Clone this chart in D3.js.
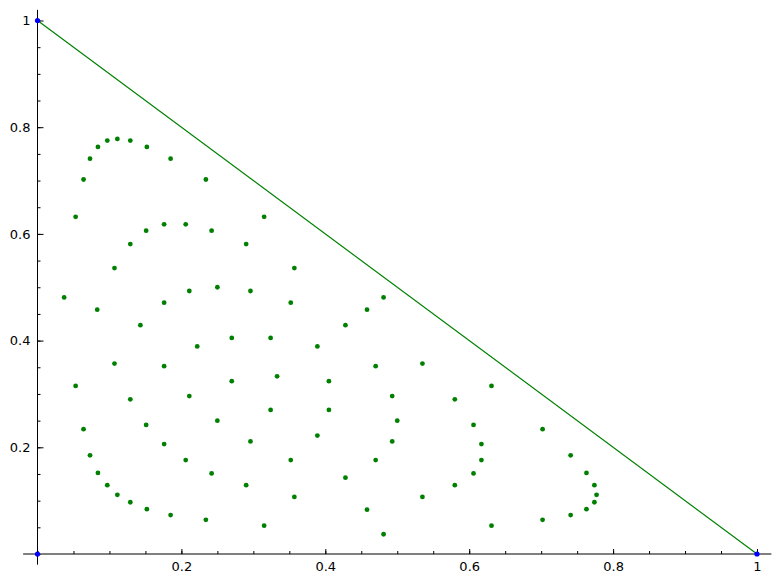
<!DOCTYPE html>
<html lang="en">

<head>
	<meta charset="utf-8">
	<title>Points in the simplex</title>
	<script type="text/javascript" src="https://d3js.org/d3.v7.min.js"></script>
	<style type="text/css">
		body { margin: 0; background: #fff; }
		.tick text { font-family: "DejaVu Sans", sans-serif; font-size: 13px; fill: #000; }
	</style>
</head>

<body>
	<div class="chart"></div>
	<script type="text/javascript">
		// green points (x and y paired by index)
		var pointX = [
			0.053, 0.064, 0.073, 0.084, 0.097, 0.111, 0.129, 0.152, 0.185, 0.234, 0.315, 0.481,
			0.037, 0.053, 0.064, 0.073, 0.084, 0.097, 0.111, 0.129, 0.152, 0.185, 0.234, 0.315,
			0.481, 0.631, 0.702, 0.741, 0.763, 0.774, 0.777, 0.774, 0.763, 0.741, 0.702, 0.631,
			0.107, 0.129, 0.151, 0.176, 0.206, 0.242, 0.290, 0.357, 0.083, 0.107, 0.129, 0.151,
			0.176, 0.206, 0.242, 0.290, 0.357, 0.458, 0.535, 0.580, 0.606, 0.617, 0.617, 0.606,
			0.580, 0.535, 0.458,
			0.143, 0.176, 0.211, 0.250, 0.296, 0.352, 0.428, 0.176, 0.211, 0.250, 0.296, 0.352,
			0.428, 0.470, 0.493, 0.500, 0.493, 0.470,
			0.222, 0.270, 0.324, 0.389, 0.270, 0.324, 0.389, 0.405, 0.405, 0.333
		];
		var pointY = [
			0.632, 0.702, 0.741, 0.763, 0.775, 0.778, 0.775, 0.763, 0.741, 0.702, 0.632, 0.481,
			0.481, 0.315, 0.234, 0.185, 0.152, 0.129, 0.111, 0.097, 0.084, 0.073, 0.064, 0.053,
			0.037, 0.053, 0.064, 0.073, 0.084, 0.097, 0.111, 0.129, 0.152, 0.185, 0.234, 0.315,
			0.536, 0.581, 0.606, 0.618, 0.618, 0.606, 0.581, 0.536, 0.458, 0.357, 0.290, 0.242,
			0.206, 0.176, 0.151, 0.129, 0.107, 0.083, 0.107, 0.129, 0.151, 0.176, 0.206, 0.242,
			0.290, 0.357, 0.458,
			0.429, 0.471, 0.493, 0.500, 0.493, 0.471, 0.429, 0.352, 0.296, 0.250, 0.211, 0.176,
			0.143, 0.176, 0.211, 0.250, 0.296, 0.352,
			0.389, 0.405, 0.405, 0.389, 0.324, 0.270, 0.222, 0.270, 0.324, 0.333
		];
		// corners of the triangle (blue) and the edge x + y = 1
		var cornerX = [0, 0, 1];
		var cornerY = [1, 0, 0];
		var edgeX = [0, 1];
		var edgeY = [1, 0];
		var majorTicks = [0.2, 0.4, 0.6, 0.8, 1];
		var minorTicks = d3.range(0, 21).map(function(i) { return i * 0.05; });

		var width = 781,
			height = 584;

		var svg = d3.select(".chart")
			.append("svg")
			.attr("width", width)
			.attr("height", height);

		var x = d3.scaleLinear().domain([0, 1]).range([37.5, 757]);
		var y = d3.scaleLinear().domain([0, 1]).range([554, 20.5]);

		var fmt = d3.format("~g");

		// the edge
		var edge = edgeX.map(function(d, i) { return [d, edgeY[i]]; });
		svg.append("path")
			.datum(edge)
			.attr("fill", "none")
			.attr("stroke", "#008000")
			.attr("stroke-width", 1.2)
			.attr("d", d3.line()
				.x(function(d) { return x(d[0]); })
				.y(function(d) { return y(d[1]); }));

		// green points
		var points = pointX.map(function(d, i) { return { x: d, y: pointY[i] }; });
		svg.selectAll(".pt")
			.data(points)
			.enter()
			.append("circle")
			.attr("class", "pt")
			.attr("cx", function(d) { return x(d.x); })
			.attr("cy", function(d) { return y(d.y); })
			.attr("r", 2.4)
			.attr("fill", "#008000");

		// axes: ticks point inward, lines run a bit past the data range
		var xAxisG = svg.append("g").attr("transform", "translate(0," + y(0) + ")");
		xAxisG.call(d3.axisBottom(x).tickValues(minorTicks).tickSize(-3).tickFormat(""));
		xAxisG.append("g").call(d3.axisBottom(x).tickValues(majorTicks).tickSize(-5).tickPadding(8).tickFormat(fmt));
		xAxisG.selectAll(".domain").remove();
		xAxisG.append("line")
			.attr("x1", x(-0.02)).attr("x2", x(1.02))
			.attr("stroke", "#000");

		var yAxisG = svg.append("g").attr("transform", "translate(" + x(0) + ",0)");
		yAxisG.call(d3.axisLeft(y).tickValues(minorTicks).tickSize(-3).tickFormat(""));
		yAxisG.append("g").call(d3.axisLeft(y).tickValues(majorTicks).tickSize(-6).tickPadding(7).tickFormat(fmt));
		yAxisG.selectAll(".domain").remove();
		yAxisG.append("line")
			.attr("y1", y(-0.02)).attr("y2", y(1.02))
			.attr("stroke", "#000");

		svg.selectAll(".tick line").attr("stroke", "#000");

		// blue corner points
		var corners = cornerX.map(function(d, i) { return { x: d, y: cornerY[i] }; });
		svg.selectAll(".corner")
			.data(corners)
			.enter()
			.append("circle")
			.attr("class", "corner")
			.attr("cx", function(d) { return x(d.x); })
			.attr("cy", function(d) { return y(d.y); })
			.attr("r", 2.6)
			.attr("fill", "#0000ff");
	</script>
</body>

</html>
